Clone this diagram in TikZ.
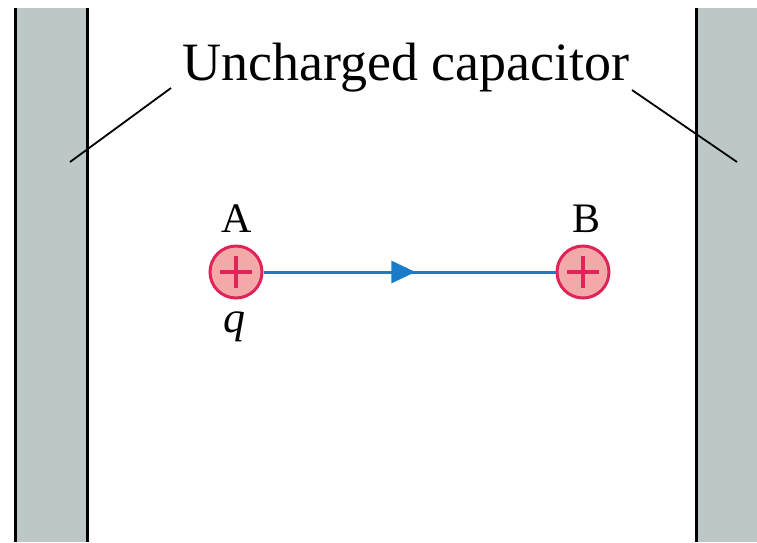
\documentclass[tikz,border=0pt]{standalone}
\usepackage{fontspec}
\setmainfont{Liberation Serif}
\usetikzlibrary{arrows.meta,decorations.markings}
\definecolor{plategray}{HTML}{BCC8C8}
\definecolor{chargered}{HTML}{E0245A}
\definecolor{chargefill}{HTML}{F4A9A9}
\definecolor{pathblue}{HTML}{1A7CC8}
\tikzset{
  plateedge/.style={line width=3pt,black},
  leader/.style={line width=1.8pt,black},
  charge/.style={circle,draw=chargered,fill=chargefill,line width=3pt,minimum size=52pt,inner sep=0pt},
  lbl/.style={font=\fontsize{42}{42}\selectfont,inner sep=0pt},
}
\begin{document}
\begin{tikzpicture}[x=1pt,y=-1pt]
\useasboundingbox (0,0) rectangle (757,542);
\fill[white] (0,0) rectangle (757,542);
% plates
\fill[plategray] (15,8) rectangle (87,542);
\draw[plateedge] (15,8) -- (15,542);
\draw[plateedge] (87,8) -- (87,542);
\fill[plategray] (696,8) rectangle (757,542);
\draw[plateedge] (696,8) -- (696,542);
% title
\node[font=\fontsize{54}{54}\selectfont,inner sep=0pt] (title) at (406,68) {Uncharged capacitor};
\coordinate (l1) at (171,88);
\coordinate (l2) at (70,162);
\coordinate (r1) at (632,90);
\coordinate (r2) at (737,162);
\draw[leader] (l1) -- (l2);
\draw[leader] (r1) -- (r2);
% charges
\node[charge] (A) at (236,272) {};
\node[charge] (B) at (583,272) {};
\foreach \c in {A,B}{
  \draw[chargered,line width=4pt] ([xshift=-16pt]\c.center) -- ([xshift=16pt]\c.center);
  \draw[chargered,line width=4pt] ([yshift=-16pt]\c.center) -- ([yshift=16pt]\c.center);
}
\draw[pathblue,line width=3pt,
  postaction={decorate},
  decoration={markings,mark=at position 0.52 with {\arrow{Triangle[length=24pt,width=22pt]}}}]
  (A.east) -- (B.west);
\node[lbl] (la) at (237,219) {A};
\node[lbl] (lb) at (586,219) {B};
\node[lbl,font=\fontsize{44}{44}\selectfont\itshape] (lq) at (234,327) {q};
\end{tikzpicture}
\end{document}
